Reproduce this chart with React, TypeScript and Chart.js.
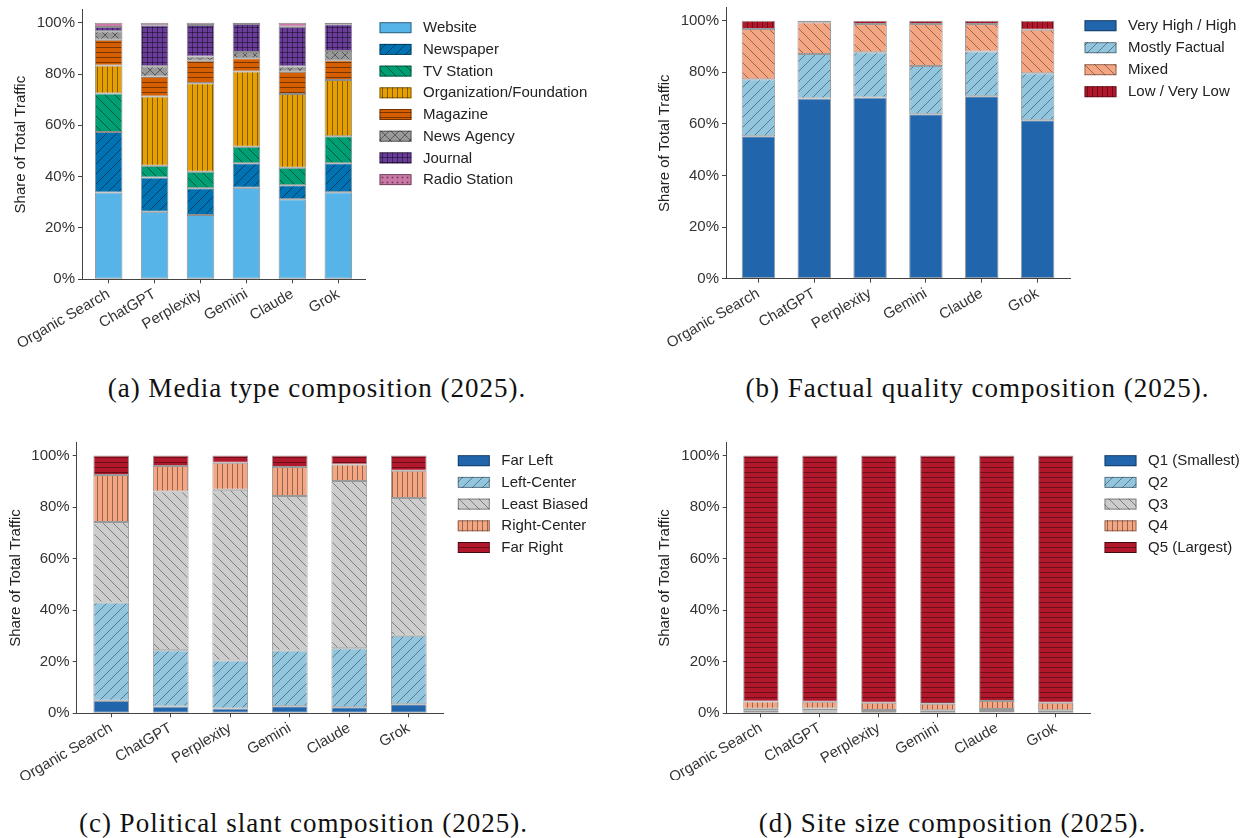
import React, { useEffect, useRef } from 'react';
import { Chart, registerables } from 'chart.js';
Chart.register(...registerables);

// ---------- data ----------
const categories = ['Organic Search', 'ChatGPT', 'Perplexity', 'Gemini', 'Claude', 'Grok'];
const yTickValues = [0, 20, 40, 60, 80, 100];

// (a) media type
const mediaLabels = ['Website', 'Newspaper', 'TV Station', 'Organization/Foundation', 'Magazine', 'News Agency', 'Journal', 'Radio Station'];
const website = [33.8, 26.3, 25.1, 35.7, 31.2, 33.9];
const newspaper = [23.6, 13.4, 10.4, 9.5, 5.5, 11.3];
const tvStation = [15.0, 4.6, 6.4, 6.5, 6.8, 10.6];
const organization = [10.9, 26.9, 34.5, 29.3, 28.7, 21.9];
const magazine = [10.1, 7.8, 8.8, 5.2, 8.7, 7.7];
const newsAgency = [3.3, 4.0, 1.6, 2.4, 2.0, 3.6];
const journal = [1.6, 16.0, 12.3, 10.9, 15.5, 10.4];
const radioStation = [1.7, 1.0, 0.9, 0.5, 1.6, 0.6];

// (b) factual quality
const factualLabels = ['Very High / High', 'Mostly Factual', 'Mixed', 'Low / Very Low'];
const veryHigh = [55.2, 69.8, 70.2, 63.7, 70.7, 61.4];
const mostlyFactual = [22.1, 17.3, 17.6, 18.7, 17.4, 18.2];
const mixed = [19.5, 12.3, 10.9, 16.3, 10.6, 16.9];
const lowFactual = [3.2, 0.6, 1.3, 1.3, 1.3, 3.5];

// (c) political slant
const slantLabels = ['Far Left', 'Left-Center', 'Least Biased', 'Right-Center', 'Far Right'];
const farLeft = [4.9, 2.6, 1.9, 2.7, 2.3, 3.5];
const leftCenter = [38.1, 21.9, 18.6, 21.7, 22.9, 26.6];
const leastBiased = [31.2, 61.6, 66.2, 59.9, 64.9, 53.4];
const rightCenter = [18.3, 9.9, 10.5, 11.3, 6.4, 10.6];
const farRight = [7.5, 4.0, 2.8, 4.4, 3.5, 5.9];

// (d) site size
const sizeLabels = ['Q1 (Smallest)', 'Q2', 'Q3', 'Q4', 'Q5 (Largest)'];
const q1 = [0.5, 0.8, 0.2, 0.2, 0.3, 0.2];
const q2 = [0.5, 0.4, 0.3, 0.3, 0.6, 0.3];
const q3 = [0.8, 0.7, 0.8, 0.7, 0.8, 0.7];
const q4 = [2.8, 2.6, 2.8, 2.5, 3.1, 2.9];
const q5 = [95.4, 95.5, 95.9, 96.3, 95.2, 95.9];

// ---------- styles ----------
const mediaColors = ['#56B4E9', '#0072B2', '#009E73', '#E69F00', '#D55E00', '#999999', '#6A3D9A', '#CC79A7'];
const mediaHatches = ['', '/', '\\', '|', '-', 'x', '+', '.'];
const divColors4 = ['#2166ac', '#92c5de', '#f4a582', '#b2182b'];
const divHatches4 = ['', '/', '\\', '|'];
const divColors5 = ['#2166ac', '#92c5de', '#cccccc', '#f4a582', '#b2182b'];
const divHatches5 = ['', '/', '\\', '|', '-'];

const AXIS = '#444444';
const TEXT = '#333333';
const FONT_FAMILY = "'Liberation Sans', Arial, Helvetica, sans-serif";

function makeFill(color: string, hatch: string, line: string): any {
  if (!hatch) return color;
  const s = (hatch === '/' || hatch === '\\' || hatch === 'x') ? 10 : 5;
  const c = document.createElement('canvas');
  c.width = s; c.height = s;
  const g = c.getContext('2d')!;
  g.fillStyle = color;
  g.fillRect(0, 0, s, s);
  g.strokeStyle = line;
  g.fillStyle = line;
  g.lineWidth = 1;
  g.beginPath();
  const ne = () => { g.moveTo(-1, 1); g.lineTo(1, -1); g.moveTo(0, s); g.lineTo(s, 0); g.moveTo(s - 1, s + 1); g.lineTo(s + 1, s - 1); };
  const nw = () => { g.moveTo(0, 0); g.lineTo(s, s); g.moveTo(-1, s - 1); g.lineTo(1, s + 1); g.moveTo(s - 1, -1); g.lineTo(s + 1, 1); };
  const v = () => { g.moveTo(s / 2, 0); g.lineTo(s / 2, s); };
  const h = () => { g.moveTo(0, s / 2); g.lineTo(s, s / 2); };
  if (hatch === '/') ne();
  else if (hatch === '\\') nw();
  else if (hatch === '|') v();
  else if (hatch === '-') h();
  else if (hatch === 'x') { ne(); nw(); }
  else if (hatch === '+') { v(); h(); }
  g.stroke();
  if (hatch === '.') { g.beginPath(); g.arc(s / 2, s / 2, 1.1, 0, Math.PI * 2); g.fill(); }
  return g.createPattern(c, 'repeat');
}

type Panel = {
  left: number; top: number; W: number; H: number;
  plotLeft: number; plotRight: number; plotTop: number; plotBottom: number;
  titleX: number; legendY0: number; legendDy: number;
  labels: string[]; series: number[][]; colors: string[]; hatches: string[];
  hatchLine: string; edge: string;
};

const panels: Panel[] = [
  { left: 0, top: 0, W: 620, H: 360, plotLeft: 82, plotRight: 365, plotTop: 9.9, plotBottom: 279.3, titleX: 21, legendY0: 27.7, legendDy: 21.7,
    labels: mediaLabels, series: [website, newspaper, tvStation, organization, magazine, newsAgency, journal, radioStation],
    colors: mediaColors, hatches: mediaHatches, hatchLine: 'rgba(0,0,0,0.42)', edge: 'rgba(0,0,0,0.45)' },
  { left: 620, top: 0, W: 622, H: 360, plotLeft: 106, plotRight: 450, plotTop: 7.8, plotBottom: 278.7, titleX: 45, legendY0: 25.7, legendDy: 22,
    labels: factualLabels, series: [veryHigh, mostlyFactual, mixed, lowFactual],
    colors: divColors4, hatches: divHatches4, hatchLine: 'rgba(0,0,0,0.38)', edge: 'rgba(0,0,0,0.4)' },
  { left: 0, top: 420, W: 620, H: 360, plotLeft: 76.7, plotRight: 443.3, plotTop: 22.7, plotBottom: 293.3, titleX: 16, legendY0: 40.7, legendDy: 21.7,
    labels: slantLabels, series: [farLeft, leftCenter, leastBiased, rightCenter, farRight],
    colors: divColors5, hatches: divHatches5, hatchLine: 'rgba(0,0,0,0.38)', edge: 'rgba(0,0,0,0.4)' },
  { left: 620, top: 420, W: 622, H: 360, plotLeft: 106.7, plotRight: 470, plotTop: 22.7, plotBottom: 293.3, titleX: 45, legendY0: 40.7, legendDy: 21.7,
    labels: sizeLabels, series: [q1, q2, q3, q4, q5],
    colors: divColors5, hatches: divHatches5, hatchLine: 'rgba(0,0,0,0.38)', edge: 'rgba(0,0,0,0.4)' },
];

const captions = [
  { text: '(a) Media type composition (2025).', cx: 317, cy: 388 },
  { text: '(b) Factual quality composition (2025).', cx: 977.5, cy: 388 },
  { text: '(c) Political slant composition (2025).', cx: 303.5, cy: 823 },
  { text: '(d) Site size composition (2025).', cx: 952.5, cy: 823 },
];

function PanelChart({ p }: { p: Panel }) {
  const ref = useRef<HTMLCanvasElement>(null);
  useEffect(() => {
    const canvas = ref.current!;
    const fills = p.colors.map((c, i) => makeFill(c, p.hatches[i], p.hatchLine));
    const datasets = p.series.map((d, i) => ({
      label: p.labels[i],
      data: d,
      backgroundColor: fills[i],
      borderColor: p.edge,
      borderWidth: 1,
      borderSkipped: false as any,
      categoryPercentage: 1,
      barPercentage: 0.6,
    }));
    const font = { family: FONT_FAMILY, size: 15 };
    const gridOpts = { display: true, drawOnChartArea: false, drawTicks: true, tickLength: 4, color: AXIS, offset: false };
    const sideLegend = {
      id: 'sideLegend',
      afterDraw(chart: any) {
        const { ctx, chartArea } = chart;
        ctx.save();
        p.labels.forEach((lab, i) => {
          const cy = p.legendY0 + i * p.legendDy;
          const x = chartArea.right + 14.5;
          ctx.fillStyle = fills[i];
          ctx.fillRect(x, cy - 5.5, 32, 11);
          ctx.strokeStyle = p.edge;
          ctx.lineWidth = 1;
          ctx.strokeRect(x + 0.5, cy - 5, 31, 10);
          ctx.fillStyle = '#222';
          ctx.font = `15px ${FONT_FAMILY}`;
          ctx.textBaseline = 'middle';
          ctx.textAlign = 'left';
          ctx.fillText(lab, x + 43.5, cy + 0.5);
        });
        ctx.restore();
      },
    };
    const chart = new Chart(canvas, {
      type: 'bar',
      data: { labels: categories.map((_, i) => i), datasets },
      options: {
        responsive: false,
        animation: false,
        devicePixelRatio: 1,
        layout: { padding: { left: 0, top: p.plotTop, right: p.W - p.plotRight, bottom: 0 } },
        plugins: { legend: { display: false }, tooltip: { enabled: false } },
        scales: {
          x: {
            type: 'linear', stacked: true, min: -0.58, max: 5.58, offset: false,
            grid: gridOpts as any,
            border: { display: true, color: AXIS, width: 1 },
            ticks: {
              autoSkip: false, minRotation: 30, maxRotation: 30, font, color: TEXT, padding: 2,
              callback: (v: any) => categories[Math.round(Number(v))] ?? '',
            },
            afterBuildTicks: (s: any) => { s.ticks = categories.map((_, i) => ({ value: i })); },
            afterFit: (s: any) => { s.height = p.H - p.plotBottom; s.paddingLeft = 0; s.paddingRight = 0; },
          } as any,
          y: {
            type: 'linear', stacked: true, min: 0, max: 105,
            grid: gridOpts as any,
            border: { display: true, color: AXIS, width: 1 },
            ticks: { font, color: TEXT, padding: 3, callback: (v: any) => `${v}%` },
            afterBuildTicks: (s: any) => { s.ticks = yTickValues.map((v) => ({ value: v })); },
            title: { display: true, text: 'Share of Total Traffic', font, color: '#222', padding: { top: p.titleX - 9, bottom: 0 } },
            afterFit: (s: any) => { s.width = p.plotLeft; s.paddingTop = 0; s.paddingBottom = 0; },
          } as any,
        },
      },
      plugins: [sideLegend],
    });
    return () => chart.destroy();
  }, [p]);
  return (
    <canvas
      ref={ref}
      width={p.W}
      height={p.H}
      style={{ position: 'absolute', left: p.left, top: p.top, width: p.W, height: p.H }}
    />
  );
}

export default function App() {
  return (
    <div style={{ position: 'fixed', left: 0, top: 0, width: 1242, height: 838, background: '#fff', overflow: 'hidden' }}>
      {panels.map((p, i) => <PanelChart key={i} p={p} />)}
      {captions.map((c, i) => (
        <div
          key={i}
          style={{
            position: 'absolute', left: c.cx - 320, width: 640, top: c.cy - 16, height: 32,
            lineHeight: '32px', textAlign: 'center', whiteSpace: 'nowrap',
            fontFamily: "'Liberation Serif', 'Times New Roman', serif", fontSize: 27, letterSpacing: 1, color: '#111',
          }}
        >
          {c.text}
        </div>
      ))}
    </div>
  );
}
